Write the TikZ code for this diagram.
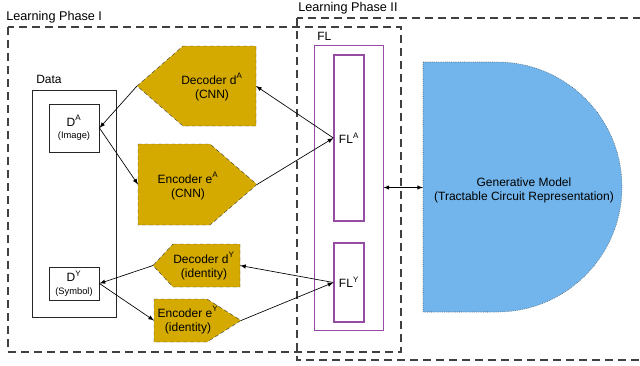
\documentclass[tikz,border=0pt]{standalone}
\usepackage{fontspec}
\setmainfont{Liberation Sans}
\definecolor{oro}{RGB}{212,170,0}
\definecolor{cielo}{RGB}{114,181,236}
\definecolor{morado}{RGB}{150,75,165}
\tikzstyle{fase}=[draw=black!75,dash pattern=on 6pt off 3.75pt,line width=0.8pt]
\tikzstyle{etiqueta}=[inner sep=0pt,font=\fontsize{9}{10.5}\selectfont]
\tikzstyle{caja}=[draw=black!85,line width=0.7pt,inner sep=0pt,align=center,font=\fontsize{9}{10.5}\selectfont]
\tikzstyle{lila}=[draw=morado,inner sep=0pt,font=\fontsize{9}{10.5}\selectfont]
\tikzstyle{bloque}=[fill=oro,draw=black!70,densely dashed,line width=0.35pt]
\tikzstyle{modelo}=[fill=cielo,draw=black!75,densely dotted,line width=0.4pt]
\tikzstyle{flecha}=[-latex,line width=0.5pt]
\tikzstyle{doble}=[latex-latex,line width=0.5pt]

\begin{document}
\begin{tikzpicture}[x=0.75pt,y=-0.75pt]
		\useasboundingbox (0,0) rectangle (640,365);
		\draw[fase] (8,27) rectangle (401,352);
		\draw[fase] (297,18) rectangle (660,360);
		\node[etiqueta,anchor=west,font=\fontsize{9.5}{11}\selectfont] (fase1) at (6,17) {Learning Phase I};
		\node[etiqueta,anchor=west,font=\fontsize{9.5}{11}\selectfont] (fase2) at (298,8) {Learning Phase II};
		\node[caja,minimum width=63pt,minimum height=170.25pt] (data) at (74,203.5) {};
		\node[etiqueta,anchor=west] (datalbl) at (36,79) {Data};
		\node[caja,minimum width=37.5pt,minimum height=36pt] (dA) at (74,128) {D\textsuperscript{A}\\[-1pt]{\fontsize{7}{8}\selectfont(Image)}};
		\node[caja,minimum width=37.5pt,minimum height=24.75pt] (dY) at (74,283.5) {D\textsuperscript{Y}\\[-1pt]{\fontsize{7}{8}\selectfont(Symbol)}};
		\node[lila,line width=0.6pt,minimum width=51.75pt,minimum height=213.75pt] (fl) at (348.5,187.5) {};
		\node[etiqueta,anchor=west] (fllbl) at (317,36) {FL};
		\node[lila,line width=0.9pt,minimum width=22.5pt,minimum height=124.5pt] (flA) at (349,138) {FL\textsuperscript{A}};
		\node[lila,line width=0.9pt,minimum width=22.5pt,minimum height=59.25pt] (flY) at (349,282.5) {FL\textsuperscript{Y}};
		\filldraw[bloque] (183,46) -- (256,46) -- (256,126) -- (183,126) -- (137,86) -- cycle;
		\filldraw[bloque] (138,144) -- (210,144) -- (257,184.5) -- (210,225) -- (138,225) -- cycle;
		\filldraw[bloque] (173,244) -- (240,244) -- (240,287) -- (173,287) -- (153,265.5) -- cycle;
		\filldraw[bloque] (154,299) -- (207,299) -- (241,320.5) -- (207,342) -- (154,342) -- cycle;
		\coordinate (decA-w) at (137,86);
		\coordinate (decA-e) at (256,86);
		\coordinate (encA-w) at (138,184.5);
		\coordinate (encA-e) at (257,184.5);
		\coordinate (decY-w) at (153,265.5);
		\coordinate (decY-e) at (240,265.5);
		\coordinate (encY-w) at (154,320.5);
		\coordinate (encY-e) at (241,320.5);
		\node[caja,draw=none] (decA) at (212,87) {Decoder d\textsuperscript{A}\\(CNN)};
		\node[caja,draw=none] (encA) at (188,186) {Encoder e\textsuperscript{A}\\(CNN)};
		\node[caja,draw=none] (decY) at (204,266) {Decoder d\textsuperscript{Y}\\(identity)};
		\node[caja,draw=none] (encY) at (188,320) {Encoder e\textsuperscript{Y}\\(identity)};
		\filldraw[modelo] (423,62) -- (497,62) arc (-90:90:125) -- (423,312) -- cycle;
		\coordinate (gm-w) at (423,187.5);
		\node[caja,draw=none] (gm) at (524,190) {Generative Model\\(Tractable Circuit Representation)};
		\draw[flecha] (flA.west) -- (decA-e);
		\draw[flecha] (decA-w) -- (dA.east);
		\draw[flecha] (dA.east) -- (encA-w);
		\draw[flecha] (encA-e) -- (flA.west);
		\draw[flecha] (flY.west) -- (decY-e);
		\draw[flecha] (decY-w) -- (dY.east);
		\draw[flecha] (dY.east) -- (encY-w);
		\draw[flecha] (encY-e) -- (flY.west);
		\draw[doble] (fl.east) -- (gm-w);
	\end{tikzpicture}
\end{document}
